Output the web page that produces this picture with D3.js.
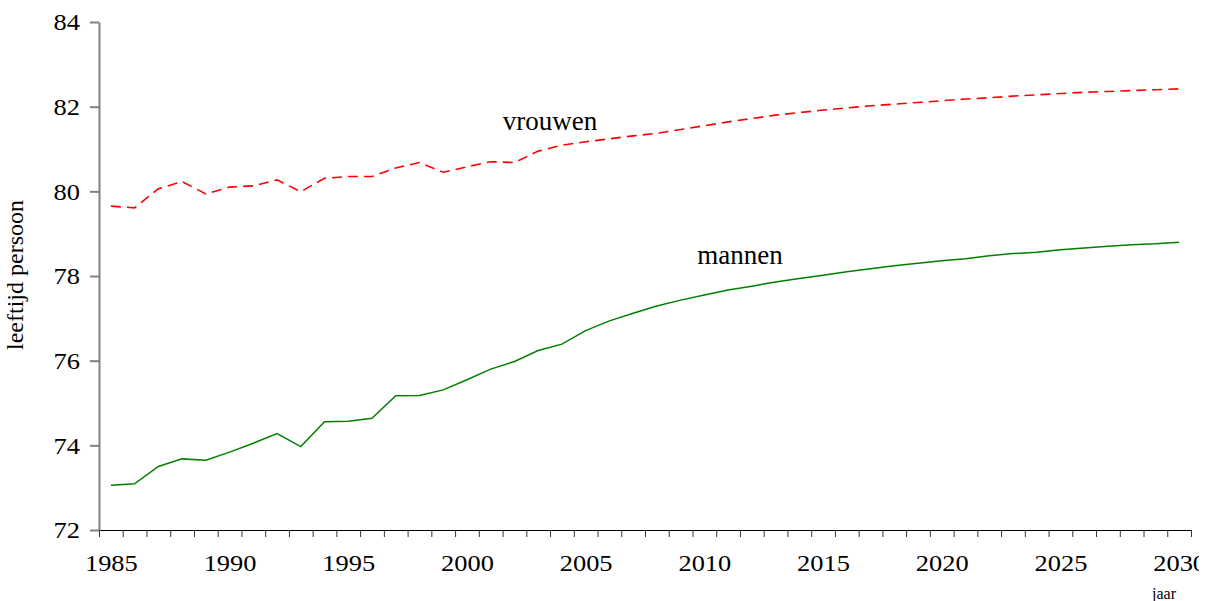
<!DOCTYPE html>
<html>
<head>
<meta charset="utf-8">
<script src="https://cdn.jsdelivr.net/npm/d3@7"></script>
<style>
  html, body { margin: 0; padding: 0; background: #fff; }
  svg { display: block; }
  text { font-family: "Liberation Serif", "Times New Roman", serif; fill: #000; }
</style>
</head>
<body>
<svg id="chart" width="1199" height="601"></svg>
<script>
// ---- data ----
const years = [1985,1986,1987,1988,1989,1990,1991,1992,1993,1994,
               1995,1996,1997,1998,1999,2000,2001,2002,2003,2004,
               2005,2006,2007,2008,2009,2010,2011,2012,2013,2014,
               2015,2016,2017,2018,2019,2020,2021,2022,2023,2024,
               2025,2026,2027,2028,2029,2030];
const vrouwen = [79.65,79.61,80.06,80.23,79.94,80.10,80.13,80.27,79.99,80.31,
                 80.35,80.35,80.55,80.68,80.45,80.58,80.70,80.68,80.95,81.09,
                 81.17,81.24,81.31,81.37,81.46,81.55,81.64,81.72,81.80,81.86,
                 81.92,81.97,82.02,82.06,82.10,82.14,82.18,82.21,82.25,82.28,
                 82.31,82.34,82.36,82.38,82.40,82.42];
const mannen = [73.06,73.09,73.50,73.68,73.65,73.84,74.05,74.28,73.97,74.56,
                74.57,74.64,75.17,75.18,75.31,75.55,75.80,75.98,76.24,76.39,
                76.71,76.94,77.12,77.29,77.43,77.55,77.67,77.76,77.86,77.94,
                78.02,78.10,78.17,78.24,78.30,78.36,78.41,78.48,78.53,78.56,
                78.62,78.66,78.70,78.74,78.76,78.80];
const yTicks = [72,74,76,78,80,82,84];
const xLabelYears = [1985,1990,1995,2000,2005,2010,2015,2020,2025,2030];
const seriesLabels = ["vrouwen", "mannen"];
const yTitle = "leeftijd persoon";
const xTitle = "jaar";

// ---- layout ----
const L = 99, R = 1191, T = 22, B = 530;
const svg = d3.select("#chart");

const x = d3.scaleLinear().domain([years[0] - 0.5, years[years.length - 1] + 0.5]).range([L, R]);
const y = d3.scaleLinear().domain([72, 84]).range([B, T]);

// x axis: tick marks at category boundaries
const boundaries = years.map(d => d - 0.5).concat([years[years.length - 1] + 0.5]);
const gxTicks = svg.append("g").attr("transform", `translate(0,${B})`)
  .call(d3.axisBottom(x).tickValues(boundaries).tickSize(7).tickSizeOuter(0).tickFormat(""));
gxTicks.select(".domain").attr("stroke", "#000").attr("stroke-width", 1);
gxTicks.selectAll(".tick line").attr("stroke", "#333").attr("stroke-width", 1);

// x labels at category centres
const gxLab = svg.append("g").attr("transform", `translate(0,${B})`)
  .call(d3.axisBottom(x).tickValues(xLabelYears).tickSize(0).tickFormat(d3.format("d")));
gxLab.select(".domain").remove();
gxLab.selectAll(".tick text")
  .attr("y", 41).attr("dy", 0)
  .attr("font-size", 23)
  .attr("transform", "scale(1.15,1)")
  .style("font-family", '"Liberation Serif", "Times New Roman", serif');

// y axis
const gy = svg.append("g").attr("transform", `translate(${L},0)`)
  .call(d3.axisLeft(y).tickValues(yTicks).tickSize(9).tickSizeOuter(0).tickFormat(d3.format("d")));
gy.select(".domain").attr("stroke", "#808080").attr("stroke-width", 2);
gy.selectAll(".tick line").attr("stroke", "#808080").attr("stroke-width", 2);
gy.selectAll(".tick text")
  .attr("x", -19 / 1.15).attr("dy", "0.34em")
  .attr("font-size", 23)
  .attr("transform", "scale(1.15,1)")
  .style("font-family", '"Liberation Serif", "Times New Roman", serif');

// lines
const line = d3.line().x((d, i) => x(years[i])).y(d => y(d));
svg.append("path").datum(vrouwen)
  .attr("d", line).attr("fill", "none")
  .attr("stroke", "#ff0000").attr("stroke-width", 1.6)
  .attr("stroke-dasharray", "10,6");
svg.append("path").datum(mannen)
  .attr("d", line).attr("fill", "none")
  .attr("stroke", "#008000").attr("stroke-width", 1.5);

// series labels
svg.append("text").attr("x", 550).attr("y", 130).attr("text-anchor", "middle")
  .attr("font-size", 27).text(seriesLabels[0]);
svg.append("text").attr("x", 740).attr("y", 264).attr("text-anchor", "middle")
  .attr("font-size", 27).text(seriesLabels[1]);

// axis titles
svg.append("text")
  .attr("transform", "translate(23,275) rotate(-90)")
  .attr("text-anchor", "middle").attr("font-size", 24)
  .text(yTitle);
svg.append("text").attr("x", 1164).attr("y", 599).attr("text-anchor", "middle")
  .attr("font-size", 16).text(xTitle);
</script>
</body>
</html>
